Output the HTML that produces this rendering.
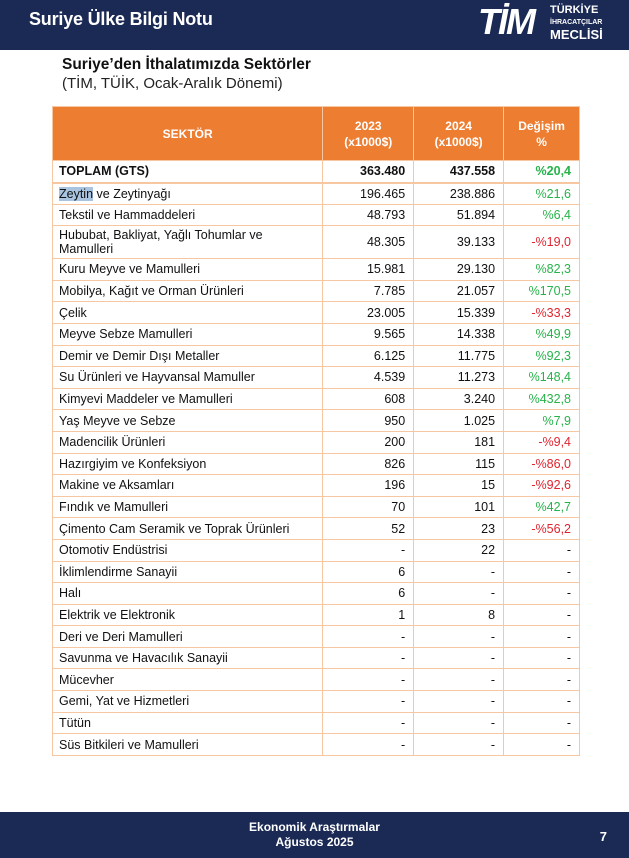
<!DOCTYPE html>
<html><head><meta charset="utf-8"><style>
*{margin:0;padding:0;box-sizing:border-box}
body{width:629px;height:858px;background:#fff;font-family:"Liberation Sans","DejaVu Sans",sans-serif;position:relative;overflow:hidden;color:#111}
.top{position:absolute;left:0;top:0;width:629px;height:50px;background:#1b2a55}
.top .t{position:absolute;left:29px;top:9px;color:#fff;font-size:18px;font-weight:bold;letter-spacing:-0.2px}
.logo{position:absolute;left:478px;top:2px;color:#fff;font-weight:bold;font-style:italic;font-size:36px;letter-spacing:-2px;line-height:40px}
.lt{position:absolute;left:550px;color:#fff;font-weight:bold;line-height:1}
h1{position:absolute;left:62px;top:56px;font-size:15.5px;font-weight:bold}
h2{position:absolute;left:62px;top:75px;font-size:15px;font-weight:normal;color:#222}
table{position:absolute;left:52px;top:106px;width:528px;border-collapse:collapse;font-size:12.5px}
td,th{border:1px solid #f6c7a0;padding:0 4px;height:21.6px}
th{background:#ed7d31;color:#fff;font-size:12px;height:54px;line-height:16px}
td.n{text-align:right;padding-right:8px}
td.l{padding-left:6px}
.g{color:#27b24a}.r{color:#e0242f}
tr.tot td{font-weight:bold;height:22px;border-bottom:2px solid #f6c7a0}
.hl{background:#a9c4e0}
.foot{position:absolute;left:0;top:812px;width:629px;height:46px;background:#1b2a55;color:#fff;font-weight:bold;font-size:12px;text-align:center;line-height:15px;padding-top:8px}
.pg{position:absolute;right:22px;top:17px;font-size:13px}
</style></head><body>
<div class="top"><div class="t">Suriye Ülke Bilgi Notu</div>
<div class="logo">TİM</div>
<div class="lt" style="top:5px;font-size:11px">TÜRKİYE</div>
<div class="lt" style="top:19px;font-size:7px">İHRACATÇILAR</div>
<div class="lt" style="top:28px;font-size:13px">MECLİSİ</div>
</div>
<h1>Suriye’den İthalatımızda Sektörler</h1>
<h2>(TİM, TÜİK, Ocak-Aralık Dönemi)</h2>
<table>
<colgroup><col style="width:271px"><col style="width:91px"><col style="width:90px"><col style="width:76px"></colgroup>
<tr><th>SEKTÖR</th><th>2023<br>(x1000$)</th><th>2024<br>(x1000$)</th><th>Değişim<br>%</th></tr>
<tr class="tot"><td class="l">TOPLAM (GTS)</td><td class="n">363.480</td><td class="n">437.558</td><td class="n g">%20,4</td></tr>
<tr><td class="l"><span class="hl">Zeytin</span> ve Zeytinyağı</td><td class="n">196.465</td><td class="n">238.886</td><td class="n g">%21,6</td></tr>
<tr><td class="l">Tekstil ve Hammaddeleri</td><td class="n">48.793</td><td class="n">51.894</td><td class="n g">%6,4</td></tr>
<tr><td class="l" style="height:33px;line-height:14px">Hububat, Bakliyat, Yağlı Tohumlar ve Mamulleri</td><td class="n">48.305</td><td class="n">39.133</td><td class="n r">-%19,0</td></tr>
<tr><td class="l">Kuru Meyve ve Mamulleri</td><td class="n">15.981</td><td class="n">29.130</td><td class="n g">%82,3</td></tr>
<tr><td class="l">Mobilya, Kağıt ve Orman Ürünleri</td><td class="n">7.785</td><td class="n">21.057</td><td class="n g">%170,5</td></tr>
<tr><td class="l">Çelik</td><td class="n">23.005</td><td class="n">15.339</td><td class="n r">-%33,3</td></tr>
<tr><td class="l">Meyve Sebze Mamulleri</td><td class="n">9.565</td><td class="n">14.338</td><td class="n g">%49,9</td></tr>
<tr><td class="l">Demir ve Demir Dışı Metaller</td><td class="n">6.125</td><td class="n">11.775</td><td class="n g">%92,3</td></tr>
<tr><td class="l">Su Ürünleri ve Hayvansal Mamuller</td><td class="n">4.539</td><td class="n">11.273</td><td class="n g">%148,4</td></tr>
<tr><td class="l">Kimyevi Maddeler ve Mamulleri</td><td class="n">608</td><td class="n">3.240</td><td class="n g">%432,8</td></tr>
<tr><td class="l">Yaş Meyve ve Sebze</td><td class="n">950</td><td class="n">1.025</td><td class="n g">%7,9</td></tr>
<tr><td class="l">Madencilik Ürünleri</td><td class="n">200</td><td class="n">181</td><td class="n r">-%9,4</td></tr>
<tr><td class="l">Hazırgiyim ve Konfeksiyon</td><td class="n">826</td><td class="n">115</td><td class="n r">-%86,0</td></tr>
<tr><td class="l">Makine ve Aksamları</td><td class="n">196</td><td class="n">15</td><td class="n r">-%92,6</td></tr>
<tr><td class="l">Fındık ve Mamulleri</td><td class="n">70</td><td class="n">101</td><td class="n g">%42,7</td></tr>
<tr><td class="l">Çimento Cam Seramik ve Toprak Ürünleri</td><td class="n">52</td><td class="n">23</td><td class="n r">-%56,2</td></tr>
<tr><td class="l">Otomotiv Endüstrisi</td><td class="n">-</td><td class="n">22</td><td class="n">-</td></tr>
<tr><td class="l">İklimlendirme Sanayii</td><td class="n">6</td><td class="n">-</td><td class="n">-</td></tr>
<tr><td class="l">Halı</td><td class="n">6</td><td class="n">-</td><td class="n">-</td></tr>
<tr><td class="l">Elektrik ve Elektronik</td><td class="n">1</td><td class="n">8</td><td class="n">-</td></tr>
<tr><td class="l">Deri ve Deri Mamulleri</td><td class="n">-</td><td class="n">-</td><td class="n">-</td></tr>
<tr><td class="l">Savunma ve Havacılık Sanayii</td><td class="n">-</td><td class="n">-</td><td class="n">-</td></tr>
<tr><td class="l">Mücevher</td><td class="n">-</td><td class="n">-</td><td class="n">-</td></tr>
<tr><td class="l">Gemi, Yat ve Hizmetleri</td><td class="n">-</td><td class="n">-</td><td class="n">-</td></tr>
<tr><td class="l">Tütün</td><td class="n">-</td><td class="n">-</td><td class="n">-</td></tr>
<tr><td class="l">Süs Bitkileri ve Mamulleri</td><td class="n">-</td><td class="n">-</td><td class="n">-</td></tr>
</table>
<div class="foot">Ekonomik Araştırmalar<br>Ağustos 2025<div class="pg">7</div></div>
</body></html>
